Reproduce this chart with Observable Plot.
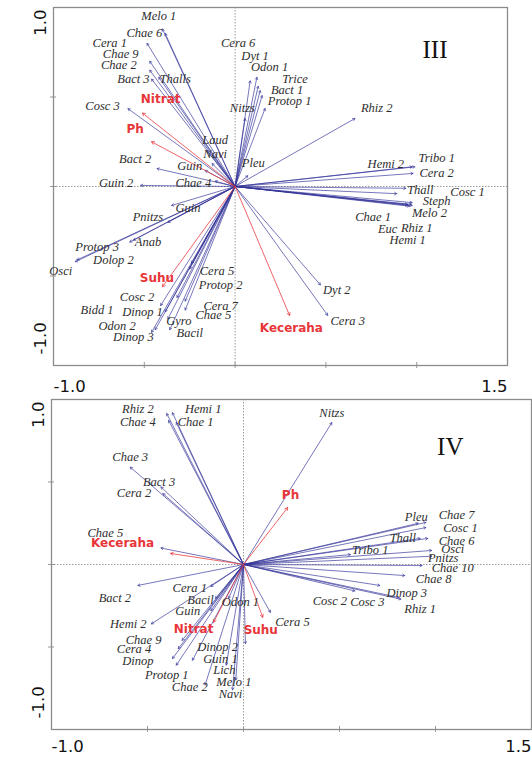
<!DOCTYPE html>
<html><head><meta charset="utf-8">
<script src="https://cdn.jsdelivr.net/npm/d3@7"></script>
<script src="https://cdn.jsdelivr.net/npm/@observablehq/plot@0.6"></script>
<style>
html,body{margin:0;padding:0;background:#fff;}
#wrap{position:relative;width:532px;height:757px;overflow:hidden;background:#fff;}
#p3{position:absolute;left:0;top:0;}
#p4{position:absolute;left:0;top:395px;}
svg{background:transparent !important;}
</style></head><body><div id="wrap"><div id="p3"></div><div id="p4"></div></div>
<script>
// ---------- Panel III ----------
const iiiSpecies = ["Melo 1","Chae 6","Cera 1","Chae 9","Chae 2","Bact 3","Thalls","Cosc 3","Laud","Navi","Pleu","Bact 2","Guin","Guin 2","Chae 4","Cera 6","Dyt 1","Odon 1","Trice","Bact 1","Protop 1","Nitzs","Rhiz 2","Hemi 2","Tribo 1","Cera 2","Thall","Cosc 1","Steph","Chae 1","Melo 2","Euc","Rhiz 1","Hemi 1","Dyt 2","Cera 3","Guin","Pnitzs","Protop 3","Anab","Dolop 2","Osci","Cera 5","Protop 2","Cosc 2","Cera 7","Bidd 1","Dinop 1","Chae 5","Gyro","Odon 2","Dinop 3","Bacil"];
const iiiX = [-0.40,-0.385,-0.485,-0.47,-0.47,-0.46,-0.42,-0.59,-0.155,-0.127,0.07,-0.43,-0.165,-0.52,-0.11,0.083,0.12,0.127,0.138,0.149,0.165,0.055,0.66,0.975,0.99,0.98,0.89,0.94,0.975,0.95,0.975,0.96,0.97,0.95,0.47,0.51,-0.35,-0.37,-0.58,-0.56,-0.87,-0.88,-0.24,-0.25,-0.32,-0.275,-0.41,-0.385,-0.275,-0.37,-0.44,-0.46,-0.36];
const iiiY = [0.88,0.855,0.80,0.70,0.65,0.60,0.61,0.435,0.20,0.128,0.06,0.10,0.09,0.006,0.03,0.59,0.61,0.56,0.536,0.508,0.436,0.38,0.38,0.11,0.11,0.073,-0.04,-0.01,-0.09,-0.10,-0.106,-0.11,-0.10,-0.105,-0.55,-0.72,-0.106,-0.20,-0.31,-0.30,-0.41,-0.42,-0.43,-0.46,-0.62,-0.64,-0.665,-0.70,-0.69,-0.74,-0.80,-0.815,-0.80];
const iiiLabelX = [-0.42,-0.50,-0.69,-0.63,-0.64,-0.56,-0.33,-0.73,-0.11,-0.11,0.10,-0.55,-0.25,-0.655,-0.23,0.017,0.11,0.19,0.33,0.286,0.30,0.04,0.78,0.83,1.11,1.11,1.02,1.28,1.11,0.76,1.07,0.84,1.00,0.95,0.56,0.62,-0.26,-0.48,-0.76,-0.48,-0.67,-0.96,-0.10,-0.08,-0.54,-0.08,-0.76,-0.51,-0.12,-0.31,-0.65,-0.56,-0.25];
const iiiLabelY = [0.955,0.86,0.80,0.74,0.68,0.60,0.60,0.45,0.26,0.18,0.13,0.156,0.117,0.017,0.02,0.80,0.73,0.665,0.60,0.54,0.48,0.44,0.436,0.128,0.16,0.073,-0.02,-0.03,-0.08,-0.17,-0.15,-0.235,-0.23,-0.30,-0.58,-0.75,-0.12,-0.17,-0.34,-0.31,-0.41,-0.47,-0.47,-0.55,-0.62,-0.665,-0.69,-0.70,-0.72,-0.75,-0.78,-0.84,-0.82];
const iiiEnv = ["Nitrat","Ph","Suhu","Keceraha"];
const iiiEnvX = [-0.51,-0.46,-0.40,0.30];
const iiiEnvY = [0.41,0.25,-0.56,-0.72];
const iiiEnvLabelX = [-0.41,-0.55,-0.43,0.31];
const iiiEnvLabelY = [0.49,0.32,-0.51,-0.79];

// ---------- Panel IV ----------
const ivSpecies = ["Rhiz 2","Hemi 1","Chae 4","Chae 1","Chae 3","Bact 3","Cera 2","Chae 5","Nitzs","Pleu","Chae 7","Cosc 1","Thall","Chae 6","Tribo 1","Osci","Pnitzs","Chae 10","Chae 8","Dinop 3","Cosc 2","Cosc 3","Rhiz 1","Cera 5","Bact 2","Cera 1","Bacil","Odon 1","Guin","Hemi 2","Chae 9","Cera 4","Dinop","Dinop 2","Guin 1","Protop 1","Lich","Melo 1","Chae 2","Navi"];
const ivX = [-0.40,-0.37,-0.39,-0.35,-0.59,-0.43,-0.42,-0.43,0.46,0.91,0.95,0.95,0.92,0.96,0.557,0.98,0.98,0.93,0.84,0.71,0.58,0.81,0.82,0.14,-0.55,-0.17,-0.146,-0.078,-0.17,-0.48,-0.32,-0.34,-0.37,0.01,-0.266,-0.35,-0.09,-0.04,-0.20,-0.057];
const ivY = [0.915,0.92,0.873,0.86,0.59,0.47,0.43,0.10,0.86,0.25,0.255,0.224,0.158,0.158,0.06,0.085,0.05,-0.006,-0.067,-0.127,-0.16,-0.20,-0.21,-0.29,-0.127,-0.133,-0.206,-0.206,-0.28,-0.36,-0.46,-0.51,-0.57,-0.48,-0.58,-0.61,-0.61,-0.70,-0.73,-0.76];
const ivLabelX = [-0.55,-0.21,-0.55,-0.25,-0.59,-0.44,-0.57,-0.72,0.46,0.90,1.11,1.13,0.83,1.11,0.66,1.09,1.04,1.09,0.99,0.85,0.45,0.645,0.92,0.255,-0.67,-0.28,-0.224,-0.016,-0.29,-0.60,-0.52,-0.57,-0.55,-0.135,-0.12,-0.40,-0.10,-0.05,-0.28,-0.068];
const ivLabelY = [0.945,0.945,0.865,0.865,0.65,0.50,0.436,0.19,0.92,0.29,0.30,0.224,0.158,0.145,0.085,0.095,0.04,-0.024,-0.085,-0.17,-0.22,-0.23,-0.27,-0.35,-0.20,-0.145,-0.218,-0.23,-0.28,-0.36,-0.455,-0.515,-0.585,-0.50,-0.57,-0.67,-0.64,-0.715,-0.745,-0.785];
const ivEnv = ["Ph","Keceraha","Nitrat","Suhu"];
const ivEnvX = [0.23,-0.38,-0.156,0.10];
const ivEnvY = [0.345,0.067,-0.35,-0.32];
const ivEnvLabelX = [0.245,-0.63,-0.26,0.09];
const ivEnvLabelY = [0.42,0.127,-0.39,-0.40];

// ---------- Axes ----------
const xDomain = [-1.0, 1.5];
const yDomain = [-1.0, 1.0];
const xTickValues = [-0.5, 0, 0.5, 1.0];
const yTickValues = [-0.5, 0, 0.5];
const xEndLabels = ["-1.0", "1.5"];
const yEndLabels = ["-1.0", "1.0"];
const panelNames = ["III", "IV"];

const SERIF = "'Liberation Serif','Times New Roman',serif";
const SANS = "'DejaVu Sans',sans-serif";
const BLUE = "#34349a";
const RED = "#e8353a";

function panel(o) {
  const sIdx = d3.range(o.species.length);
  const eIdx = d3.range(o.env.length);
  return Plot.plot({
    width: 532, height: o.height,
    marginLeft: o.ml, marginRight: o.mr, marginTop: o.mt, marginBottom: o.mb,
    x: {domain: xDomain, axis: null},
    y: {domain: yDomain, axis: null},
    style: {background: "transparent", overflow: "visible"},
    marks: [
      Plot.ruleX([0], {stroke: "#9a9a9a", strokeDasharray: "1.5,1.5", strokeWidth: 1}),
      Plot.ruleY([0], {stroke: "#9a9a9a", strokeDasharray: "1.5,1.5", strokeWidth: 1}),
      Plot.ruleX(xTickValues, {y1: yDomain[0], y2: yDomain[0], insetTop: 3, insetBottom: 3, stroke: "#999"}),
      Plot.ruleY(yTickValues, {x1: xDomain[0], x2: xDomain[0], insetLeft: -3, insetRight: -3, stroke: "#999"}),
      Plot.frame({stroke: "#8c8c8c", strokeWidth: 1.3}),
      Plot.arrow(sIdx, {x1: () => 0, y1: () => 0, x2: i => o.x[i], y2: i => o.y[i],
        stroke: BLUE, strokeOpacity: 0.75, strokeWidth: 0.9, headLength: 4}),
      Plot.arrow(eIdx, {x1: () => 0, y1: () => 0, x2: i => o.ex[i], y2: i => o.ey[i],
        stroke: RED, strokeOpacity: 0.85, strokeWidth: 0.9, headLength: 5}),
      Plot.text(sIdx, {x: i => o.lx[i], y: i => o.ly[i], text: i => o.species[i],
        fontFamily: SERIF, fontStyle: "italic", fontSize: 12.5, fill: "#2e2e2e"}),
      Plot.text(eIdx, {x: i => o.elx[i], y: i => o.ely[i], text: i => o.env[i],
        fontFamily: SANS, fontWeight: "bold", fontSize: 12, fill: RED}),
      Plot.text([xEndLabels[0]], {x: () => xDomain[0], y: () => yDomain[0], text: d => d,
        textAnchor: "start", dy: o.xlabDy, fontFamily: SANS, fontSize: 16.5, fill: "#111"}),
      Plot.text([xEndLabels[1]], {x: () => xDomain[1], y: () => yDomain[0], text: d => d,
        textAnchor: "end", dy: o.xlabDy, fontFamily: SANS, fontSize: 16.5, fill: "#111"}),
      Plot.text([yEndLabels[1]], {x: () => xDomain[0], y: () => yDomain[1], text: d => d,
        rotate: -90, textAnchor: "end", dx: -13, dy: 2, fontFamily: SANS, fontSize: 16.5, fill: "#111"}),
      Plot.text([yEndLabels[0]], {x: () => xDomain[0], y: () => yDomain[0], text: d => d,
        rotate: -90, textAnchor: "start", dx: -13, dy: -11, fontFamily: SANS, fontSize: 16.5, fill: "#111"}),
      Plot.text([o.name], {frameAnchor: "top-right", text: d => d, dx: o.ndx, dy: o.ndy,
        fontFamily: SERIF, fontSize: 25, fill: "#111"})
    ]
  });
}

document.getElementById("p3").append(panel({
  height: 395, ml: 53, mr: 25, mt: 7, mb: 30, xlabDy: 21, ndx: -60, ndy: 33, name: panelNames[0],
  species: iiiSpecies, x: iiiX, y: iiiY, lx: iiiLabelX, ly: iiiLabelY,
  env: iiiEnv, ex: iiiEnvX, ey: iiiEnvY, elx: iiiEnvLabelX, ely: iiiEnvLabelY
}));
document.getElementById("p4").append(panel({
  height: 362, ml: 51, mr: 1, mt: 4, mb: 28, xlabDy: 17, ndx: -68, ndy: 38, name: panelNames[1],
  species: ivSpecies, x: ivX, y: ivY, lx: ivLabelX, ly: ivLabelY,
  env: ivEnv, ex: ivEnvX, ey: ivEnvY, elx: ivEnvLabelX, ely: ivEnvLabelY
}));
</script>
</body></html>
